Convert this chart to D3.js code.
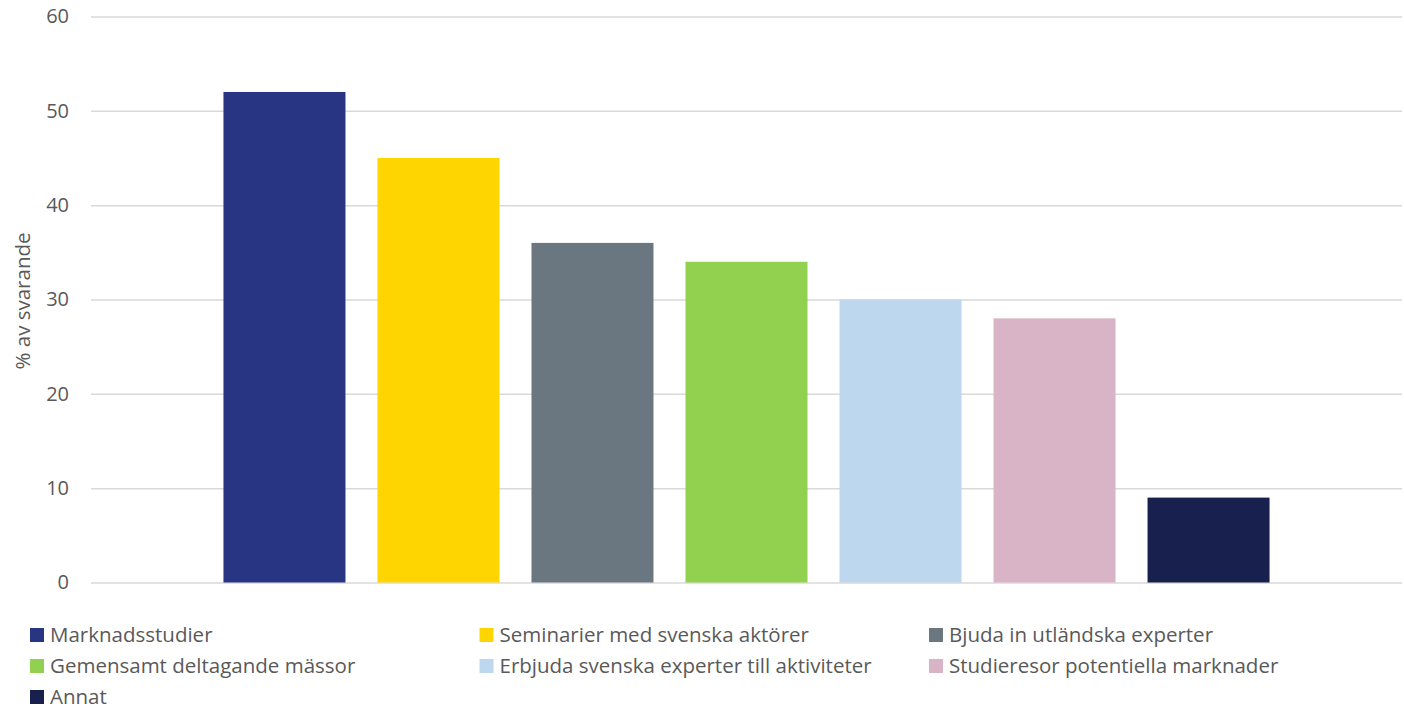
<!DOCTYPE html>
<html>
<head>
<meta charset="utf-8">
<script src="https://cdn.jsdelivr.net/npm/d3@7"></script>
<style>
  body { margin: 0; background: #fff; }
  svg { display: block; font-family: "Open Sans", "Noto Sans", sans-serif; }
</style>
</head>
<body>
<div id="vis"></div>
<script>
const series = [
  "Marknadsstudier",
  "Seminarier med svenska aktörer",
  "Bjuda in utländska experter",
  "Gemensamt deltagande mässor",
  "Erbjuda svenska experter till aktiviteter",
  "Studieresor potentiella marknader",
  "Annat"
];
const values = [52, 45, 36, 34, 30, 28, 9];
const colors = ["#283583", "#FFD500", "#6B7780", "#92D050", "#BDD7EE", "#D8B4C6", "#18204E"];
const yTicks = [0, 10, 20, 30, 40, 50, 60];

const FRAME_WIDTH = 1404;
const FRAME_HEIGHT = 707;
const MARGINS = { left: 91, right: 2, top: 16.5, bottom: 124.5 };

const svg = d3.select("#vis")
  .append("svg")
  .attr("width", FRAME_WIDTH)
  .attr("height", FRAME_HEIGHT);

const Y_SCALE = d3.scaleLinear()
  .domain([0, 60])
  .range([FRAME_HEIGHT - MARGINS.bottom, MARGINS.top]);

// one category, seven series side by side
const X_SCALE = d3.scaleBand()
  .domain(series)
  .range([MARGINS.left, FRAME_WIDTH - MARGINS.right])
  .paddingInner(32 / 154)
  .paddingOuter(0.86);

// gridlines + tick labels
const yAxis = svg.append("g")
  .attr("transform", "translate(" + MARGINS.left + ",0)")
  .call(d3.axisLeft(Y_SCALE)
    .tickValues(yTicks)
    .tickSize(-(FRAME_WIDTH - MARGINS.left - MARGINS.right))
    .tickPadding(22));
yAxis.select(".domain").remove();
yAxis.selectAll(".tick line")
  .attr("stroke", "#d9d9d9")
  .attr("stroke-width", 1.5);
yAxis.selectAll(".tick text")
  .attr("fill", "#595959")
  .attr("font-size", "20px")
  .attr("font-family", "Open Sans, sans-serif");

svg.append("text")
  .attr("transform", "translate(30," + 301 + ") rotate(-90)")
  .attr("text-anchor", "middle")
  .attr("fill", "#595959")
  .attr("font-size", "20.5px")
  .text("% av svarande");

// bars
svg.selectAll(".bar")
  .data(values)
  .enter()
  .append("rect")
  .attr("class", "bar")
  .attr("x", (d, i) => X_SCALE(series[i]))
  .attr("y", (d) => Y_SCALE(d))
  .attr("width", X_SCALE.bandwidth())
  .attr("height", (d) => Y_SCALE(0) - Y_SCALE(d))
  .attr("fill", (d, i) => colors[i]);

// legend, 3 columns
const legend = svg.append("g");
const items = legend.selectAll(".item")
  .data(series)
  .enter()
  .append("g")
  .attr("class", "item")
  .attr("transform", (d, i) => "translate(" + (30 + (i % 3) * 449.5) + "," + (627 + Math.floor(i / 3) * 31) + ")");

items.append("rect")
  .attr("y", 1)
  .attr("width", 14)
  .attr("height", 14)
  .attr("fill", (d, i) => colors[i]);

items.append("text")
  .attr("x", 20)
  .attr("y", 15)
  .attr("fill", "#595959")
  .attr("font-size", "20.5px")
  .text((d) => d);
</script>
</body>
</html>
